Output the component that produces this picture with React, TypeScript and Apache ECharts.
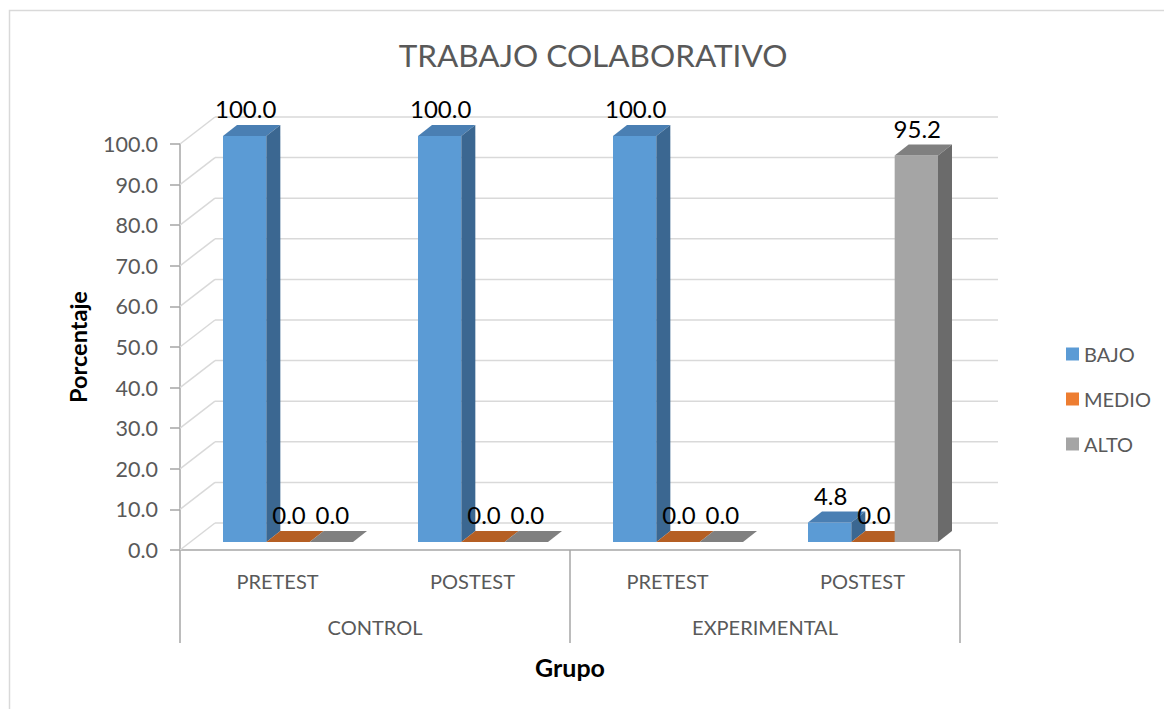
import React, { useEffect, useRef } from "react";
import * as echarts from "echarts";

const categories = ["PRETEST", "POSTEST", "PRETEST", "POSTEST"];
const groups = ["CONTROL", "EXPERIMENTAL"];
const seriesNames = ["BAJO", "MEDIO", "ALTO"];
const bajo = [100.0, 100.0, 100.0, 4.8];
const medio = [0.0, 0.0, 0.0, 0.0];
const alto = [0.0, 0.0, 0.0, 95.2];
const seriesValues = [bajo, medio, alto];
const yTicks = [0, 10, 20, 30, 40, 50, 60, 70, 80, 90, 100];

const FONT = "Lato, 'Open Sans', sans-serif";
const DX = 35;
const DY = -27;
const faces = [
  { front: "#5B9BD5", top: "#4A7FB3", side: "#3B6791" },
  { front: "#ED7D31", top: "#B55F24", side: "#A9561E" },
  { front: "#A5A5A5", top: "#808080", side: "#6B6B6B" },
];

function makeBarRender(slot: number) {
  return (params: any, api: any) => {
    const i = api.value(0);
    const v = api.value(1);
    const base = api.coord([i, 0]);
    const topP = api.coord([i, v]);
    const catW = api.size([1, 0])[0];
    const bw = catW / 4.5;
    const fx = DX * 0.3;
    const fy = DY * 0.3;
    const ddx = DX * 0.4;
    const ddy = DY * 0.4;
    const left = base[0] - bw * 1.5 + slot * bw + fx;
    const right = left + bw;
    const yb = base[1] + fy;
    const yt = topP[1] + fy;
    const c = faces[slot];
    return {
      type: "group",
      children: [
        {
          type: "rect",
          shape: { x: left, y: yt, width: bw, height: Math.max(0, yb - yt) },
          style: { fill: c.front },
        },
        {
          type: "polygon",
          shape: {
            points: [
              [left, yt],
              [right, yt],
              [right + ddx, yt + ddy],
              [left + ddx, yt + ddy],
            ],
          },
          style: { fill: c.top },
        },
        {
          type: "polygon",
          shape: {
            points: [
              [right, yt],
              [right + ddx, yt + ddy],
              [right + ddx, yb + ddy],
              [right, yb],
            ],
          },
          style: { fill: c.side },
        },
        {
          type: "text",
          z2: 100,
          style: {
            x: left + bw / 2 + 1,
            y: yt - 27,
            text: v.toFixed(1),
            align: "center",
            verticalAlign: "middle",
            fill: "#000000",
            font: `24px ${FONT}`,
          },
        },
      ],
    };
  };
}

function wallRender(params: any, api: any) {
  const v = api.value(1);
  const y = api.coord([0, v])[1];
  const cs = params.coordSys;
  const x0 = cs.x;
  return {
    type: "group",
    children: [
      {
        type: "line",
        shape: { x1: x0, y1: y, x2: x0 + DX, y2: y + DY },
        style: { stroke: "#D9D9D9", lineWidth: 1.5 },
      },
      {
        type: "line",
        shape: { x1: x0 + DX, y1: y + DY, x2: x0 + DX + cs.width + 3, y2: y + DY },
        style: { stroke: "#D9D9D9", lineWidth: 1.5 },
      },
    ],
  };
}

export default function App() {
  const ref = useRef<HTMLDivElement>(null);
  useEffect(() => {
    if (!ref.current) return;
    const chart = echarts.init(ref.current, null, { renderer: "svg" });
    const barSeries = seriesValues.map((vals, s) => ({
      name: seriesNames[s],
      type: "custom",
      xAxisIndex: 0,
      yAxisIndex: 0,
      clip: false,
      z: 3 + s,
      itemStyle: { color: faces[s].front },
      encode: { x: 0, y: 1 },
      renderItem: makeBarRender(s),
      data: vals.map((v, i) => [i, v]),
    }));
    chart.setOption({
      animation: false,
      backgroundColor: "#FFFFFF",
      textStyle: { fontFamily: FONT },
      graphic: [
        {
          type: "rect",
          shape: { x: 9.5, y: 10.5, width: 1300, height: 900 },
          style: { fill: "none", stroke: "#D9D9D9", lineWidth: 1.5 },
          silent: true,
        },
        {
          type: "text",
          x: 593,
          y: 55,
          style: {
            text: "TRABAJO COLABORATIVO",
            align: "center",
            verticalAlign: "middle",
            fill: "#595959",
            font: `31.5px ${FONT}`,
          },
        },
      ],
      legend: {
        data: seriesNames,
        orient: "vertical",
        left: 1061,
        top: 339,
        icon: "rect",
        itemWidth: 13,
        itemHeight: 13,
        itemGap: 25,
        textStyle: { color: "#595959", fontSize: 20, fontFamily: FONT },
      },
      grid: { left: 180, top: 144, width: 780, height: 406 },
      xAxis: [
        {
          type: "category",
          data: categories,
          axisLine: { show: true, lineStyle: { color: "#A6A6A6", width: 1.5 } },
          axisTick: { show: false },
          axisLabel: { color: "#595959", fontSize: 20, margin: 21, fontFamily: FONT },
          splitLine: { show: false },
        },
        {
          type: "category",
          data: groups,
          position: "bottom",
          axisLine: { show: false },
          axisTick: { show: true, length: 93, lineStyle: { color: "#A6A6A6", width: 1.5 } },
          axisLabel: { color: "#595959", fontSize: 20, margin: 67, fontFamily: FONT },
          name: "Grupo",
          nameLocation: "middle",
          nameGap: 104,
          nameTextStyle: { color: "#000000", fontWeight: "bold", fontSize: 25, fontFamily: FONT },
        },
      ],
      yAxis: {
        type: "value",
        min: 0,
        max: 100,
        interval: 10,
        axisLine: { show: true, lineStyle: { color: "#A6A6A6", width: 1.5 } },
        axisTick: { show: true, length: 10, lineStyle: { color: "#A6A6A6", width: 1.5 } },
        axisLabel: {
          color: "#595959",
          fontSize: 21.5,
          margin: 22,
          fontFamily: FONT,
          formatter: (v: number) => v.toFixed(1),
        },
        splitLine: { show: false },
        name: "Porcentaje",
        nameLocation: "middle",
        nameGap: 90,
        nameTextStyle: { color: "#000000", fontWeight: "bold", fontSize: 23.5, fontFamily: FONT },
      },
      series: [
        {
          name: "wall",
          type: "custom",
          xAxisIndex: 0,
          yAxisIndex: 0,
          clip: false,
          silent: true,
          z: 1,
          encode: { x: 0, y: 1 },
          renderItem: wallRender,
          data: yTicks.map((t) => [0, t]),
        },
        ...barSeries,
      ],
    });
    return () => chart.dispose();
  }, []);
  return (
    <div
      ref={ref}
      style={{ position: "fixed", left: 0, top: 0, width: 1164, height: 709 }}
    />
  );
}
